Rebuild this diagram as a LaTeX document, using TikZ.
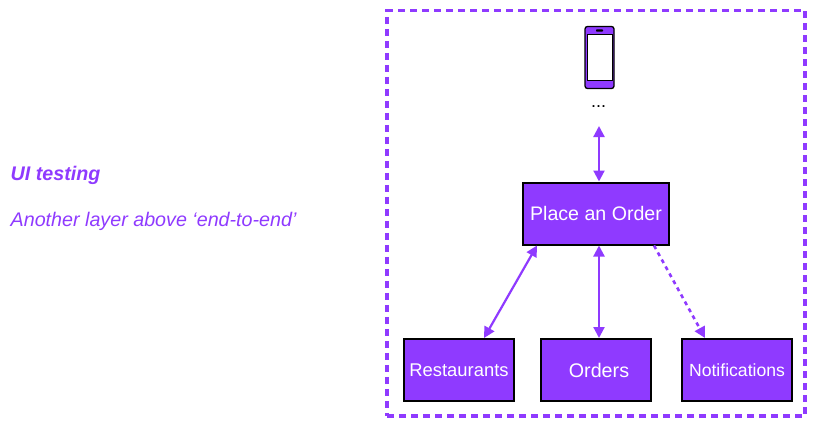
\documentclass[tikz,border=0pt]{standalone}
\usepackage{fontspec}
\setmainfont{Liberation Sans}
\usetikzlibrary{arrows.meta}
\definecolor{vio}{HTML}{8F3AFF}
\tikzset{
  svc/.style={draw=black,fill=vio,line width=2pt,text=white,minimum height=62pt,inner sep=0pt,font=\fontsize{19.6}{22}\selectfont},
  link/.style={draw=vio,line width=2.2pt,{Triangle[length=11pt,width=11pt]}-{Triangle[length=11pt,width=11pt]}},
  dlink/.style={draw=vio,line width=2.6pt,dash pattern=on 4pt off 4pt,-{Triangle[length=11pt,width=11pt]}},
  note/.style={text=vio,anchor=west,inner sep=0pt,font=\fontsize{19.7}{22}\selectfont\itshape}
}
\begin{document}
\begin{tikzpicture}[x=1pt,y=-1pt]
\useasboundingbox (0,0) rectangle (838,429);
\node[draw=vio,line width=3.3pt,dash pattern=on 7pt off 5pt,minimum width=418pt,minimum height=405.5pt,inner sep=0pt] (frame) at (596,213.2) {};
\node[note] (t1) at (10.5,175.5) {\bfseries UI testing};
\node[note] (t2) at (10.5,221.5) {Another layer above ‘end-to-end’};
\node[svc,minimum width=146pt] (place) at (596,213.5) {Place an Order};
\node[svc,minimum width=110pt] (rest) at (459,370) {\fontsize{18.4}{22}\selectfont Restaurants};
\node[svc,minimum width=110pt] (orders) at (596,370) {\fontsize{19.7}{22}\selectfont\hspace*{6pt}Orders};
\node[svc,minimum width=110pt] (notif) at (737,370) {\fontsize{17.6}{22}\selectfont Notifications};
% phone
\node[draw=black,fill=vio,line width=1.3pt,rounded corners=2.5pt,minimum width=29pt,minimum height=62pt,inner sep=0pt] (phone) at (599.5,57.5) {};
\node[draw=black,fill=white,line width=1pt,minimum width=25pt,minimum height=46pt,inner sep=0pt] (screen) at (599.5,57.5) {};
\node[fill=black,rounded corners=.8pt,minimum width=7pt,minimum height=2.4pt,inner sep=0pt] (speaker) at (599.5,30.5) {};
\node[inner sep=0pt,font=\fontsize{18}{20}\selectfont] (dots) at (598.5,107) {...};
\coordinate (top) at (599,126);
\draw[link] (top) -- ([xshift=3pt]place.north);
\draw[link] ([xshift=15pt]place.south west) -- ([xshift=81pt]rest.north west);
\draw[link] ([xshift=3pt]place.south) -- ([xshift=3pt]orders.north);
\draw[dlink] ([xshift=-16pt]place.south east) -- ([xshift=24pt]notif.north west);
\end{tikzpicture}
\end{document}
